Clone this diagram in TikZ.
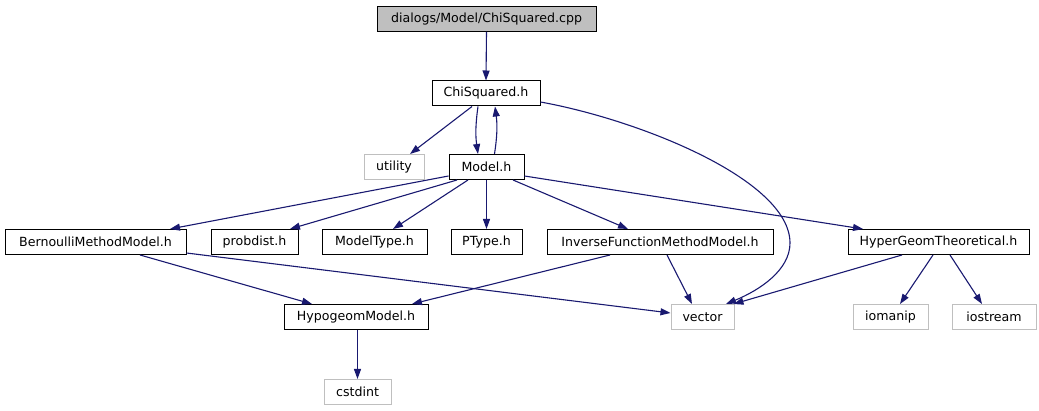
\documentclass[tikz,border=0pt]{standalone}
\usepackage{fontspec}
\setmainfont{DejaVu Sans}
\usetikzlibrary{arrows.meta}
\definecolor{edgeblue}{HTML}{191970}
\definecolor{extgray}{HTML}{BFBFBF}
\tikzset{
  base/.style={rectangle, inner sep=0pt, minimum height=25pt, font=\fontsize{12.6}{14}\selectfont, line width=1pt},
  inner/.style={base, draw=black},
  ext/.style={base, draw=extgray},
  root/.style={base, draw=black, fill=extgray},
  dep/.style={draw=edgeblue, line width=1.1pt, -{Triangle[length=10pt,width=7pt]}, fill=none},
}
\begin{document}
\begin{tikzpicture}[x=1pt,y=-1pt]
\useasboundingbox (0,0) rectangle (1039,411);
\node[root, minimum width=219pt] (cpp) at (486.5,19) {dialogs/Model/ChiSquared.cpp};
\node[inner, minimum width=108pt] (chi) at (486,93.5) {ChiSquared.h};
\node[ext, minimum width=60pt] (utility) at (394,167) {utility};
\node[inner, minimum width=75pt] (model) at (486.5,167) {Model.h};
\node[inner, minimum width=181pt] (bern) at (95.5,242) {BernoulliMethodModel.h};
\node[inner, minimum width=87pt] (probdist) at (254.5,242) {probdist.h};
\node[inner, minimum width=105pt] (modeltype) at (374.5,242) {ModelType.h};
\node[inner, minimum width=71pt] (ptype) at (486.5,242) {PType.h};
\node[inner, minimum width=226pt] (inverse) at (660,242) {InverseFunctionMethodModel.h};
\node[inner, minimum width=181pt] (hyper) at (938.5,242) {HyperGeomTheoretical.h};
\node[inner, minimum width=144pt] (hypogeom) at (356,317) {HypogeomModel.h};
\node[ext, minimum width=63pt] (vector) at (702.5,317) {vector};
\node[ext, minimum width=75pt] (iomanip) at (890.5,317) {iomanip};
\node[ext, minimum width=84pt] (iostream) at (994,317) {iostream};
\node[ext, minimum width=67pt] (cstdint) at (357.5,392) {cstdint};

\draw[dep] (cpp.south) -- (chi.north);
\draw[dep] ([xshift=-14pt]chi.south) -- ([xshift=16pt]utility.north);
\draw[dep] ([xshift=-8pt]chi.south) to[bend right=8] ([xshift=-8.5pt]model.north);
\draw[dep] ([xshift=8pt]model.north) to[bend right=8] ([xshift=9pt]chi.south);
\draw[dep] ([yshift=-8.5pt]chi.east) .. controls (640,120) and (790,180) .. (790,243)
   .. controls (790,270) and (760,290) .. ([xshift=23.5pt]vector.north);
\draw[dep] ([yshift=-9pt]model.west) -- ([xshift=74.5pt]bern.north);
\draw[dep] ([xshift=-29.5pt]model.south) -- ([xshift=35.5pt]probdist.north);
\draw[dep] ([xshift=-18.5pt]model.south) -- ([xshift=18.5pt]modeltype.north);
\draw[dep] (model.south) -- (ptype.north);
\draw[dep] ([xshift=26.5pt]model.south) -- ([xshift=-32pt]inverse.north);
\draw[dep] ([yshift=-9pt]model.east) -- ([xshift=-75.5pt]hyper.north);
\draw[dep] ([xshift=44.5pt]bern.south) -- ([xshift=-44pt]hypogeom.north);
\draw[dep] ([yshift=-11pt]bern.east) -- ([yshift=4pt]vector.west);
\draw[dep] ([xshift=-50pt]inverse.south) -- ([xshift=56pt]hypogeom.north);
\draw[dep] ([xshift=7pt]inverse.south) -- ([xshift=-10.5pt]vector.north);
\draw[dep] ([xshift=-36.5pt]hyper.south) -- ([xshift=-1pt]vector.north east);
\draw[dep] ([xshift=-5.5pt]hyper.south) -- ([xshift=9.5pt]iomanip.north);
\draw[dep] ([xshift=11.5pt]hyper.south) -- ([xshift=-12pt]iostream.north);
\draw[dep] ([xshift=1.5pt]hypogeom.south) -- (cstdint.north);
\end{tikzpicture}
\end{document}
